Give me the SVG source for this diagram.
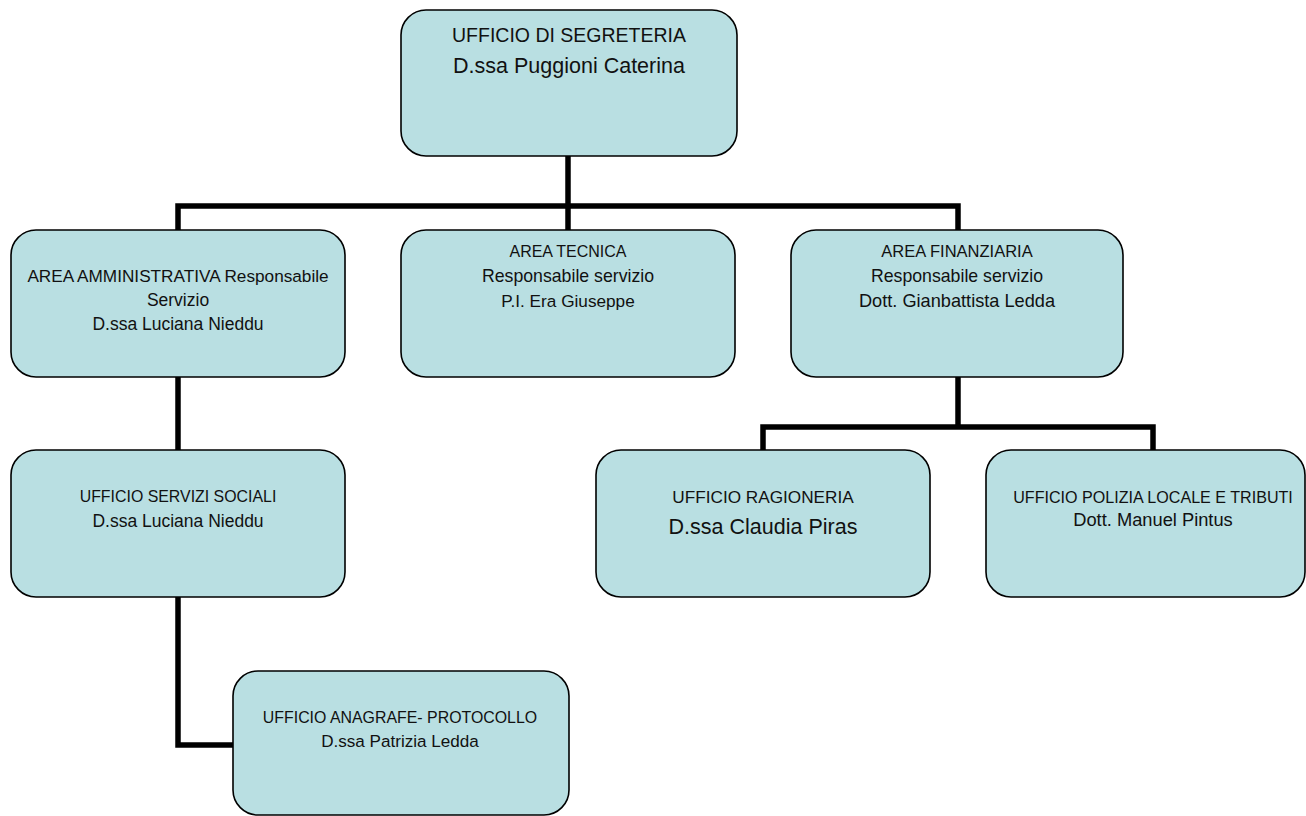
<svg xmlns="http://www.w3.org/2000/svg" width="1306" height="816" viewBox="0 0 1306 816">
<style>
.box{fill:#B9DFE2;stroke:#000;stroke-width:1.6}
.con{fill:none;stroke:#000;stroke-width:5.5;stroke-linejoin:miter;stroke-linecap:butt}
text{font-family:"Liberation Sans",Arial,sans-serif;fill:#111;text-anchor:middle}
</style>
<rect width="1306" height="816" fill="#fff"/>
<g id="connectors">
<path class="con" d="M568 156 V230"/>
<path class="con" d="M178 230 V206 H958 V230"/>
<path class="con" d="M178 377 V450"/>
<path class="con" d="M958 377 V427"/>
<path class="con" d="M763 450 V427 H1153 V450"/>
<path class="con" d="M178 597 V745 H233"/>
</g>
<g id="segreteria">
<rect class="box" x="401" y="10" width="336" height="146" rx="25"/>
<text x="569" y="42" font-size="19.5">UFFICIO DI SEGRETERIA</text>
<text x="569" y="73" font-size="21.5">D.ssa Puggioni Caterina</text>
</g>
<g id="amministrativa">
<rect class="box" x="11" y="230" width="334" height="147" rx="25"/>
<text x="178" y="282" font-size="17.2">AREA AMMINISTRATIVA Responsabile</text>
<text x="178" y="306" font-size="17.5">Servizio</text>
<text x="178" y="330" font-size="17.5">D.ssa Luciana Nieddu</text>
</g>
<g id="tecnica">
<rect class="box" x="401" y="230" width="334" height="147" rx="25"/>
<text x="568" y="257" font-size="16">AREA TECNICA</text>
<text x="568" y="282" font-size="17.7">Responsabile servizio</text>
<text x="568" y="307" font-size="17.2">P.I. Era Giuseppe</text>
</g>
<g id="finanziaria">
<rect class="box" x="791" y="230" width="332" height="147" rx="25"/>
<text x="957" y="257" font-size="16.5">AREA FINANZIARIA</text>
<text x="957" y="282" font-size="17.7">Responsabile servizio</text>
<text x="957" y="307" font-size="18.2">Dott. Gianbattista Ledda</text>
</g>
<g id="servizi-sociali">
<rect class="box" x="11" y="450" width="334" height="147" rx="25"/>
<text x="178" y="502" font-size="15.9">UFFICIO SERVIZI SOCIALI</text>
<text x="178" y="527" font-size="17.5">D.ssa Luciana Nieddu</text>
</g>
<g id="ragioneria">
<rect class="box" x="596" y="450" width="334" height="147" rx="25"/>
<text x="763" y="503" font-size="17.2">UFFICIO RAGIONERIA</text>
<text x="763" y="534" font-size="21.5">D.ssa Claudia Piras</text>
</g>
<g id="polizia">
<rect class="box" x="986" y="450" width="319" height="147" rx="25"/>
<text x="1153" y="503" font-size="16.1">UFFICIO POLIZIA LOCALE E TRIBUTI</text>
<text x="1153" y="526" font-size="18.3">Dott. Manuel Pintus</text>
</g>
<g id="anagrafe">
<rect class="box" x="233" y="671" width="336" height="144" rx="25"/>
<text x="400" y="723" font-size="15.9">UFFICIO ANAGRAFE- PROTOCOLLO</text>
<text x="400" y="747" font-size="17.1">D.ssa Patrizia Ledda</text>
</g>
</svg>
